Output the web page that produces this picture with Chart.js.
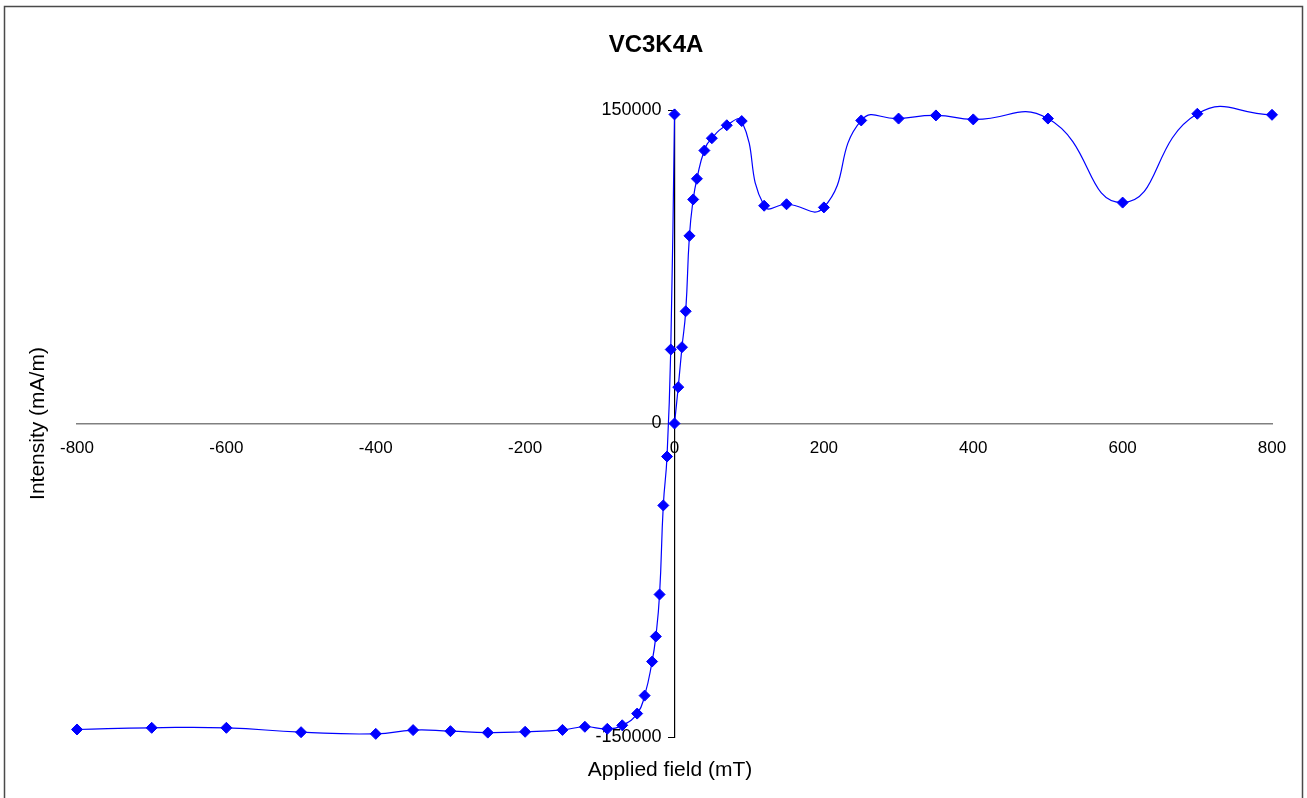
<!DOCTYPE html>
<html>
<head>
<meta charset="utf-8">
<title>VC3K4A</title>
<script src="https://cdn.jsdelivr.net/npm/chart.js@4/dist/chart.umd.min.js"></script>
<style>
  html, body { margin: 0; padding: 0; background: #ffffff; }
  #wrap { width: 1307px; height: 798px; position: relative; }
</style>
</head>
<body>
<div id="wrap"><canvas id="loop" width="1307" height="798"></canvas></div>
<script>
// Hysteresis loop of sample VC3K4A: applied field (mT) vs intensity (mA/m)

// Branch measured from -800 mT up through zero
const fieldRising = [-800, -700, -600, -500, -400, -350, -300, -250, -200, -150, -120, -90, -70, -50, -40, -30, -25, -20, -15, -10, -5, 0];
const intensityRising = [-146400, -145600, -145600, -147700, -148500, -146700, -147200, -147900, -147500, -146600, -145100, -146100, -144400, -138800, -130200, -113900, -101900, -81800, -39200, -15800, 35400, 147900];

// Branch measured from zero out to +800 mT
const fieldUpper = [0, 5, 10, 15, 20, 25, 30, 40, 50, 70, 90, 120, 150, 200, 250, 300, 350, 400, 500, 600, 700, 800];
const intensityUpper = [0, 17400, 36500, 53700, 89800, 107200, 117100, 130600, 136500, 142700, 144700, 104200, 104900, 103400, 145000, 145900, 147400, 145500, 145900, 105700, 148200, 147700];

// Axis tick settings
const fieldTicks = { min: -800, max: 800, step: 200 };
const intensityTicks = { min: -150000, max: 150000, step: 150000 };

const chartTitle = 'VC3K4A';
const fieldTitle = 'Applied field (mT)';
const intensityTitle = 'Intensity (mA/m)';

const FONT = '"Liberation Sans", Arial, Helvetica, sans-serif';
const BLUE = '#0000FF';

function toPoints(xs, ys) {
  return xs.map((x, i) => ({ x: x, y: ys[i] }));
}

function seriesStyle(xs, ys) {
  return {
    data: toPoints(xs, ys),
    borderColor: BLUE,
    backgroundColor: BLUE,
    borderWidth: 1.2,
    pointStyle: 'rectRot',
    pointRadius: 5.5,
    pointHoverRadius: 5.5,
    pointBorderWidth: 1,
    pointBorderColor: BLUE,
    pointBackgroundColor: BLUE,
    showLine: true,
    tension: 0.5,
    clip: false
  };
}

// The value axis sits at field = 0; keep its labels clear of the tick marks
const yLabelGap = {
  id: 'yLabelGap',
  beforeDraw(chart) {
    const scale = chart.scales.y;
    const gap = scale.options.grid.tickLength + scale.options.ticks.padding;
    scale.getLabelItems(chart.chartArea).forEach((item) => {
      if (!item._shifted) {
        item.options.translation[0] -= gap;
        item._shifted = true;
      }
    });
  }
};

// Frame, chart title and axis titles
const decorations = {
  id: 'decorations',
  beforeDraw(chart) {
    const ctx = chart.ctx;
    ctx.save();
    ctx.fillStyle = '#ffffff';
    ctx.fillRect(0, 0, chart.width, chart.height);
    ctx.restore();
  },
  afterDraw(chart) {
    const ctx = chart.ctx;
    const area = chart.chartArea;
    ctx.save();
    ctx.strokeStyle = '#4a4a4a';
    ctx.lineWidth = 1.5;
    ctx.strokeRect(4.5, 6.5, 1298, 800);

    ctx.fillStyle = '#000000';
    ctx.textAlign = 'center';
    ctx.textBaseline = 'middle';
    ctx.font = 'bold 24px ' + FONT;
    ctx.fillText(chartTitle, 656, 45);

    ctx.font = '21px ' + FONT;
    ctx.fillText(fieldTitle, 670, 770);

    ctx.translate(38, (area.top + area.bottom) / 2);
    ctx.rotate(-Math.PI / 2);
    ctx.fillText(intensityTitle, 0, 0);
    ctx.restore();
  }
};

new Chart(document.getElementById('loop'), {
  type: 'scatter',
  data: {
    datasets: [
      seriesStyle(fieldRising, intensityRising),
      seriesStyle(fieldUpper, intensityUpper)
    ]
  },
  options: {
    responsive: false,
    devicePixelRatio: 1,
    animation: false,
    layout: { padding: { left: 77, right: 35, top: 110, bottom: 61 } },
    elements: { line: { capBezierPoints: false } },
    plugins: {
      legend: { display: false },
      title: { display: false },
      tooltip: { enabled: false }
    },
    scales: {
      x: {
        type: 'linear',
        position: { y: 0 },
        min: fieldTicks.min,
        max: fieldTicks.max,
        ticks: {
          stepSize: fieldTicks.step,
          color: '#000000',
          font: { family: FONT, size: 17 },
          padding: 15,
          maxRotation: 0,
          callback: (v) => String(v)
        },
        grid: { display: true, drawOnChartArea: false, drawTicks: false },
        border: { display: true, color: '#808080', width: 1.5 }
      },
      y: {
        type: 'linear',
        position: { x: 0 },
        min: intensityTicks.min,
        max: intensityTicks.max,
        ticks: {
          stepSize: intensityTicks.step,
          color: '#000000',
          font: { family: FONT, size: 18 },
          padding: 7,
          callback: (v) => String(v)
        },
        grid: { display: true, drawOnChartArea: false, drawTicks: true, tickLength: 6, color: '#000000' },
        border: { display: true, color: '#000000', width: 1.2 }
      }
    }
  },
  plugins: [yLabelGap, decorations]
});
</script>
</body>
</html>
